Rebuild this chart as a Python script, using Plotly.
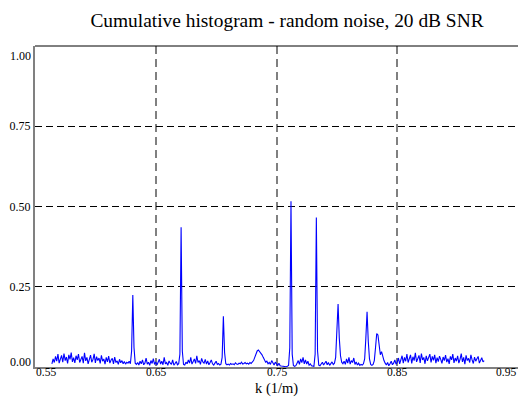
import numpy as np
import plotly.graph_objects as go

# Sample spacing of the histogram (k in 1/m)
k_start = 0.564
k_step = 0.001

# Values in thousandths, segment by segment
noise_a = [10, 25, 14, 33, 18, 40, 12, 28, 36, 15, 42, 20, 31, 11, 38, 24, 45, 16, 29, 13,
           35, 22, 40, 14, 27, 33, 12, 44, 19, 30, 10, 26, 37, 15, 23, 41, 13, 32, 20, 28,
           11, 36, 18, 25, 9, 30, 16, 34, 12, 22, 27, 10, 31, 14, 19, 8, 24, 13, 20, 10,
           17, 9, 15, 12, 18, 10]
peak_1 = [50, 224, 60, 12]
noise_b = [8, 14, 6, 18, 10, 22, 7, 12, 28, 9, 15, 5, 20, 11, 26, 8, 16, 6, 13, 24,
           9, 18, 7, 30, 10, 14, 5, 19, 12, 8, 22, 6, 11, 17, 7, 10]
peak_2 = [40, 435, 50, 8]
noise_c = [6, 15, 10, 22, 12, 30, 9, 18, 25, 11, 35, 14, 20, 8, 27, 16, 12, 24, 9, 19,
           7, 14, 22, 10, 6, 12, 18, 8, 11, 6, 9]
peak_3 = [30, 158, 45, 10]
noise_d = [7, 9, 6, 11, 8, 10, 7, 13, 9, 8, 12, 10, 15, 9, 11, 14, 10, 12, 9, 14, 11, 15]
bump_4 = [20, 30, 42, 50, 53, 48, 44, 38, 30, 22, 15]
noise_e = [18, 10, 14, 8, 20, 12, 6, 15, 9, 5, 12, 4, 3, 2, 3, 2, 1, 2]
peak_5 = [5, 60, 516, 40, 5]
noise_f = [2, 4, 12, 20, 8, 25, 14, 30, 10, 22, 9, 18, 6, 10, 4, 3, 2]
peak_6 = [40, 466, 50, 6]
noise_g = [4, 8, 15, 6, 12, 18, 7, 14, 5, 10, 16, 8, 12]
peak_7 = [30, 120, 196, 90, 35, 15]
noise_h = [10, 18, 8, 25, 12, 30, 9, 20, 14, 28, 8, 16, 6, 12, 5, 8, 6, 10]
peak_8 = [25, 90, 172, 80, 25, 8]
noise_i = [5, 8, 20]
peak_9 = [60, 104, 100, 70, 38, 48, 30, 20]
noise_j = [12, 6, 14, 4, 10, 18, 7, 12, 22, 9]
noise_k = [15, 28, 10, 22, 35, 12, 30, 18, 40, 14, 25, 38, 11, 32, 20, 44, 16, 28, 36, 13,
           42, 22, 30, 10, 35, 19, 27, 40, 14, 33, 21, 38, 12, 29, 17, 34, 24, 11, 31, 20,
           37, 15, 26, 10, 33, 22, 40, 13, 28, 18, 35, 12, 24, 42, 16, 30, 9, 36, 20, 27,
           14, 38, 22, 11, 31, 18, 26, 33, 12, 24, 29, 16, 20]

segments = [noise_a, peak_1, noise_b, peak_2, noise_c, peak_3, noise_d, bump_4, noise_e,
            peak_5, noise_f, peak_6, noise_g, peak_7, noise_h, peak_8, noise_i, peak_9,
            noise_j, noise_k]
y_vals = np.concatenate([np.array(s, dtype=float) for s in segments]) / 1000.0
k_vals = k_start + k_step * np.arange(len(y_vals))

x_ticks = [0.55, 0.65, 0.75, 0.85, 0.95]
y_ticks = [0.00, 0.25, 0.50, 0.75, 1.00]

SERIF = "Times New Roman, Liberation Serif, DejaVu Serif, serif"

fig = go.Figure()
fig.add_trace(go.Scatter(x=k_vals, y=y_vals, mode="lines",
                         line=dict(color="#0000ff", width=1.1)))

grey = "#808080"
fig.update_layout(
    width=518, height=398,
    margin=dict(l=35, r=0, t=46, b=31),
    plot_bgcolor="white", paper_bgcolor="white",
    showlegend=False,
    font=dict(family=SERIF, color="black", size=12),
    title=dict(text="Cumulative histogram - random noise, 20 dB SNR",
               font=dict(size=19.4, family=SERIF, color="black"),
               x=287 / 518, xref="container", xanchor="center",
               y=1 - 20 / 398, yref="container", yanchor="middle"),
    xaxis=dict(range=[0.55, 0.95], tickvals=x_ticks[1:-1], showticklabels=False,
               showgrid=True, gridcolor=grey, gridwidth=2, griddash="8px,5px",
               showline=True, linecolor=grey, linewidth=2, zeroline=False, ticks=""),
    yaxis=dict(range=[0, 1.0], tickvals=y_ticks[1:-1],
               ticktext=["%.2f" % v for v in y_ticks[1:-1]],
               showgrid=True, gridcolor="black", gridwidth=1, griddash="7px,4px",
               showline=True, linecolor=grey, linewidth=2, zeroline=False,
               ticks="", tickfont=dict(size=12, family=SERIF)),
)

# top frame line
fig.add_shape(type="line", xref="paper", yref="paper", x0=0, x1=1, y0=1, y1=1,
              line=dict(color="black", width=1))

ann_font = dict(size=11.5, family=SERIF, color="black")
# x tick labels (edge labels kept inside the frame)
for v in x_ticks:
    if v == x_ticks[0]:
        xa, xs = "left", 0
    elif v == x_ticks[-1]:
        xa, xs = "right", -1
    else:
        xa, xs = "center", 0
    fig.add_annotation(x=v, xref="x", y=0, yref="paper", text="%.2f" % v,
                       showarrow=False, xanchor=xa, yanchor="top", xshift=xs,
                       yshift=2, borderpad=0, font=ann_font)
fig.add_annotation(x=0, xref="paper", y=y_ticks[-1], yref="y", text="%.2f" % y_ticks[-1],
                   showarrow=False, xanchor="right", yanchor="top", xshift=-2, yshift=-1,
                   font=dict(size=12, family=SERIF, color="black"))
fig.add_annotation(x=0, xref="paper", y=y_ticks[0], yref="y", text="%.2f" % y_ticks[0],
                   showarrow=False, xanchor="right", yanchor="bottom", xshift=-2, yshift=-4,
                   font=dict(size=12, family=SERIF, color="black"))
fig.add_annotation(x=0.5, xref="paper", y=-30.5 / 321, yref="paper", text="k (1/m)",
                   showarrow=False, xanchor="center", yanchor="bottom", borderpad=0,
                   font=dict(size=14.5, family=SERIF, color="black"))

fig.write_html("out.html")
